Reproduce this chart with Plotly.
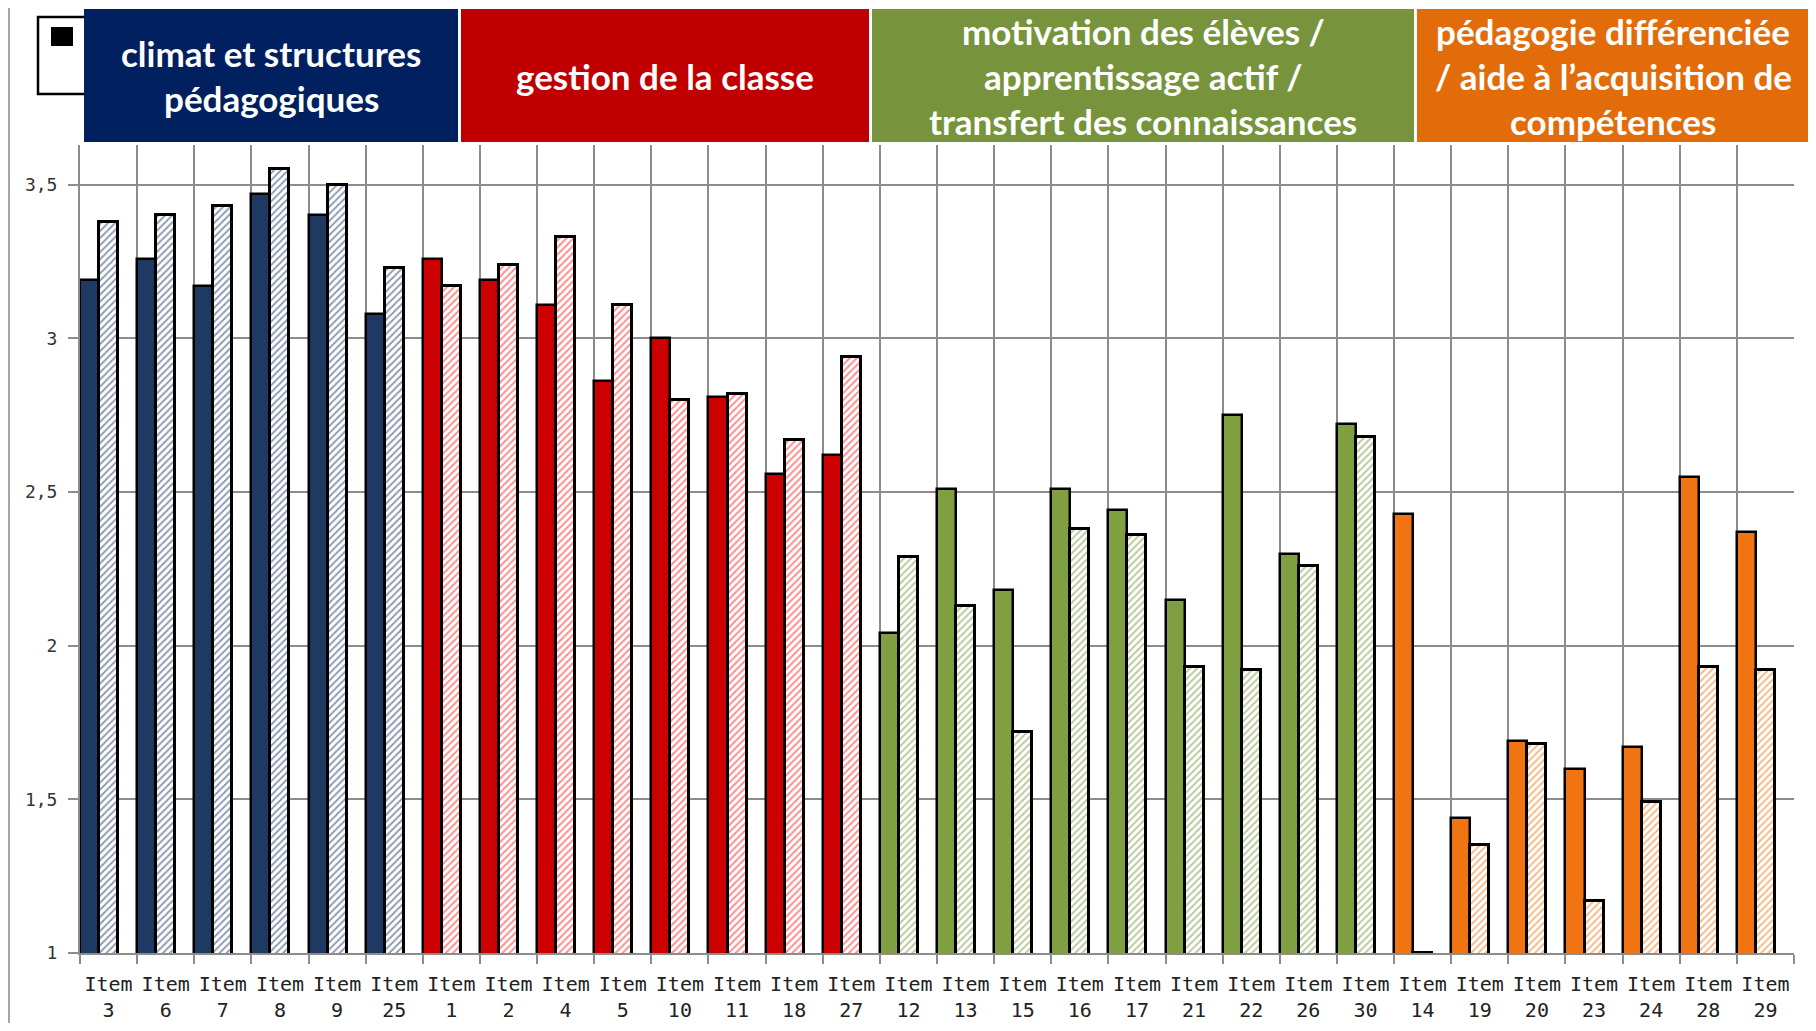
import plotly.graph_objects as go

# ---------------- data ----------------
items = ["3", "6", "7", "8", "9", "25",
         "1", "2", "4", "5", "10", "11", "18", "27",
         "12", "13", "15", "16", "17", "21", "22", "26", "30",
         "14", "19", "20", "23", "24", "28", "29"]
group_of_item = (["climat"] * 6 + ["gestion"] * 8 + ["motivation"] * 9 + ["pedagogie"] * 7)

series_solid = [3.19, 3.26, 3.17, 3.47, 3.40, 3.08,
                3.26, 3.19, 3.11, 2.86, 3.00, 2.81, 2.56, 2.62,
                2.04, 2.51, 2.18, 2.51, 2.44, 2.15, 2.75, 2.30, 2.72,
                2.43, 1.44, 1.69, 1.60, 1.67, 2.55, 2.37]
series_pattern = [3.38, 3.40, 3.43, 3.55, 3.50, 3.23,
                  3.17, 3.24, 3.33, 3.11, 2.80, 2.82, 2.67, 2.94,
                  2.29, 2.13, 1.72, 2.38, 2.36, 1.93, 1.92, 2.26, 2.68,
                  1.00, 1.35, 1.68, 1.17, 1.49, 1.93, 1.92]

y_ticks = [1, 1.5, 2, 2.5, 3, 3.5]

group_headers = {
    "climat": ["climat et structures", "pédagogiques"],
    "gestion": ["gestion de la classe"],
    "motivation": ["motivation des élèves /", "apprentissage actif /", "transfert des connaissances"],
    "pedagogie": ["pédagogie différenciée", "/ aide à l’acquisition de", "compétences"],
}

solid_colors = {"climat": "#1F3A62", "gestion": "#CC0000", "motivation": "#7F9F40", "pedagogie": "#F07412"}
pattern_colors = {"climat": "#1F3864", "gestion": "#FF1A1A", "motivation": "#77933C", "pedagogie": "#F07412"}
header_colors = {"climat": "#002060", "gestion": "#C00000", "motivation": "#77933C", "pedagogie": "#E36C0A"}

# ---------------- layout geometry ----------------
W, H = 1800, 1015
OFF = 8  # page body margin
ML, MR, MT, MB = 72, 14, 137, 70
PW, PH = W - ML - MR, H - MT - MB
Y0 = 1
Y1 = 1 + PH / 307.3


def px(xr):
    return (xr - OFF - ML) / PW


def py(yr):
    return 1 - (yr - OFF - MT) / PH


cats = ["Item<br>" + s for s in items]

fig = go.Figure()
fig.add_trace(go.Bar(
    x=cats, y=series_solid, offset=-0.5, width=1 / 3,
    marker=dict(color=[solid_colors[g] for g in group_of_item],
                line=dict(color="#000000", width=2.5)),
    showlegend=False, hoverinfo="y",
))
fig.add_trace(go.Bar(
    x=cats, y=series_pattern, offset=-0.5 + 1 / 3, width=1 / 3,
    marker=dict(color="#FFFFFF",
                line=dict(color="#000000", width=3),
                pattern=dict(shape="/", fgcolor=[pattern_colors[g] for g in group_of_item],
                             bgcolor="#FFFFFF", size=5, solidity=0.4, fillmode="overlay")),
    showlegend=False, hoverinfo="y",
))

shapes = []
# outer chart border (top and left)
shapes.append(dict(type="line", xref="paper", yref="paper", x0=px(9), x1=px(1816), y0=py(7), y1=py(7),
                   line=dict(color="#A6A6A6", width=2)))
shapes.append(dict(type="line", xref="paper", yref="paper", x0=px(9), x1=px(9), y0=py(7), y1=py(1031),
                   line=dict(color="#A6A6A6", width=2)))
# partially hidden legend box
shapes.append(dict(type="rect", xref="paper", yref="paper", x0=px(38), x1=px(110), y0=py(94), y1=py(17),
                   line=dict(color="#000000", width=2.5), fillcolor="#FFFFFF"))
shapes.append(dict(type="rect", xref="paper", yref="paper", x0=px(51), x1=px(73), y0=py(46), y1=py(27),
                   line=dict(color="#000000", width=0), fillcolor="#000000"))

header_boxes = {"climat": (84, 458), "gestion": (461, 869), "motivation": (872, 1414), "pedagogie": (1417, 1809)}
annotations = []
for g, (xa, xb) in header_boxes.items():
    shapes.append(dict(type="rect", xref="paper", yref="paper", x0=px(xa), x1=px(xb), y0=py(142), y1=py(9),
                       line=dict(width=0), fillcolor=header_colors[g]))
    lines = group_headers[g]
    n = len(lines)
    centers = {1: [77.6], 2: [54.4, 99.6], 3: [32.4, 77.6, 122.7]}[n]
    for t, yc in zip(lines, centers):
        annotations.append(dict(text=t, xref="paper", yref="paper", x=px((xa + xb) / 2), y=py(yc - 1.5),
                                xanchor="center", yanchor="middle", showarrow=False,
                                font=dict(family="Lato", size=35, color="#FFFFFF", weight="bold")))

fig.update_layout(
    width=W, height=H,
    margin=dict(l=ML, r=MR, t=MT, b=MB, pad=0, autoexpand=False),
    paper_bgcolor="#FFFFFF", plot_bgcolor="#FFFFFF",
    barmode="overlay", bargap=0,
    separators=", ",
    shapes=shapes, annotations=annotations,
    showlegend=False,
)
fig.update_xaxes(
    type="category", tickson="boundaries", ticks="outside", ticklen=9, tickwidth=2, tickcolor="#8C8C8C",
    showgrid=True, gridcolor="#8C8C8C", gridwidth=1.5,
    showline=True, linecolor="#8C8C8C", linewidth=2,
    tickfont=dict(family="DejaVu Sans Mono", size=20, color="#222222"),
    tickangle=0, range=[-0.5, len(items) - 0.5], ticklabelstandoff=12, automargin=False,
)
fig.update_yaxes(
    range=[Y0, Y1], tickvals=y_ticks, ticks="outside", ticklen=10, tickwidth=2, tickcolor="#8C8C8C",
    showgrid=True, gridcolor="#8C8C8C", gridwidth=2, zeroline=False,
    showline=True, linecolor="#8C8C8C", linewidth=2,
    tickfont=dict(family="DejaVu Sans Mono", size=18, color="#333333"),
    ticklabelstandoff=7, automargin=False,
)

fig.write_html("out.html")
